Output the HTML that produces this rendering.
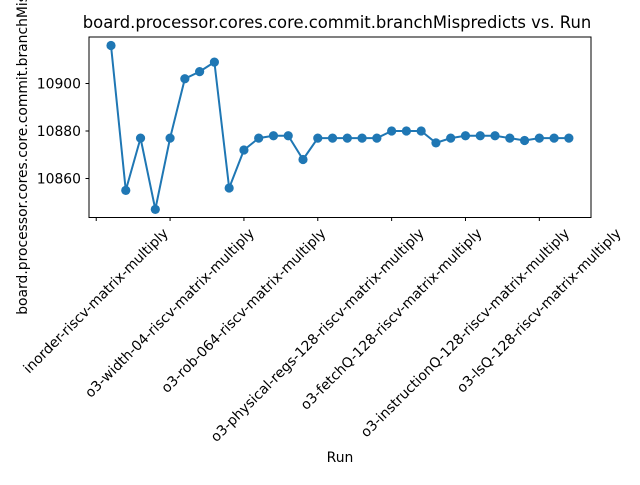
<!DOCTYPE html>
<html><head><meta charset="utf-8"><style>
body{margin:0;background:#fff}
svg text{font-family:"DejaVu Sans","Liberation Sans",sans-serif;fill:#000}
</style></head><body>
<svg id="chart" width="640" height="480" viewBox="0 0 640 480" xmlns="http://www.w3.org/2000/svg">
<rect width="640" height="480" fill="#fff"/>
<text x="337" y="28" text-anchor="middle" font-size="16.4">board.processor.cores.core.commit.branchMispredicts vs. Run</text>
<g id="plot"></g>
<text x="340" y="462" text-anchor="middle" font-size="13.9">Run</text>
<text transform="translate(27,127) rotate(-90)" text-anchor="middle" font-size="13.9">board.processor.cores.core.commit.branchMispredicts</text>
<rect x="89" y="37" width="502" height="180.5" fill="none" stroke="#000" stroke-width="1"/>
</svg>
<script>
const values=[10916,10855,10877,10847,10877,10902,10905,10909,10856,10872,10877,10878,10878,10868,10877,10877,10877,10877,10877,10880,10880,10880,10875,10877,10878,10878,10878,10877,10876,10877,10877,10877];
const xTickIdx=[-1,4,9,14,19,24,29];
const xTickLabels=["inorder-riscv-matrix-multiply","o3-width-04-riscv-matrix-multiply","o3-rob-064-riscv-matrix-multiply","o3-physical-regs-128-riscv-matrix-multiply","o3-fetchQ-128-riscv-matrix-multiply","o3-instructionQ-128-riscv-matrix-multiply","o3-lsQ-128-riscv-matrix-multiply"];
const yTicks=[10860,10880,10900];
const NS="http://www.w3.org/2000/svg";
const g=document.getElementById('plot');
const X=i=>111+i*14.77;
const Y=v=>131-(v-10880)*2.375;
function mk(t,a){const e=document.createElementNS(NS,t);for(const k in a)e.setAttribute(k,a[k]);g.appendChild(e);return e;}
yTicks.forEach(v=>{
 const t=mk('line',{x1:85.5,x2:89,y1:Y(v),y2:Y(v),stroke:'#000'});
 
 
 const l=mk('text',{x:81,y:Y(v)+5,'text-anchor':'end','font-size':13.9});
 l.textContent=v;
 
 
});
xTickIdx.forEach((i,k)=>{
 const x=X(i);
 const t=mk('line',{x1:x,x2:x,y1:217.5,y2:221,stroke:'#000'});
 
 
 const l=mk('text',{'text-anchor':'middle','dominant-baseline':'central','font-size':13.9});
 l.textContent=xTickLabels[k];
 
 
 const L=l.getComputedTextLength();
 const cy=226+(L+15)*0.7071/2;
 l.setAttribute('x',x);l.setAttribute('y',cy);
 l.setAttribute('transform',`rotate(-45 ${x} ${cy})`);
});
const line=mk('polyline',{points:values.map((v,i)=>X(i)+','+Y(v)).join(' '),fill:'none',stroke:'#1f77b4','stroke-width':2});


values.forEach((v,i)=>{
 const c=mk('circle',{cx:X(i),cy:Y(v),r:4.6,fill:'#1f77b4'});
 
 
});
</script>
</body></html>
